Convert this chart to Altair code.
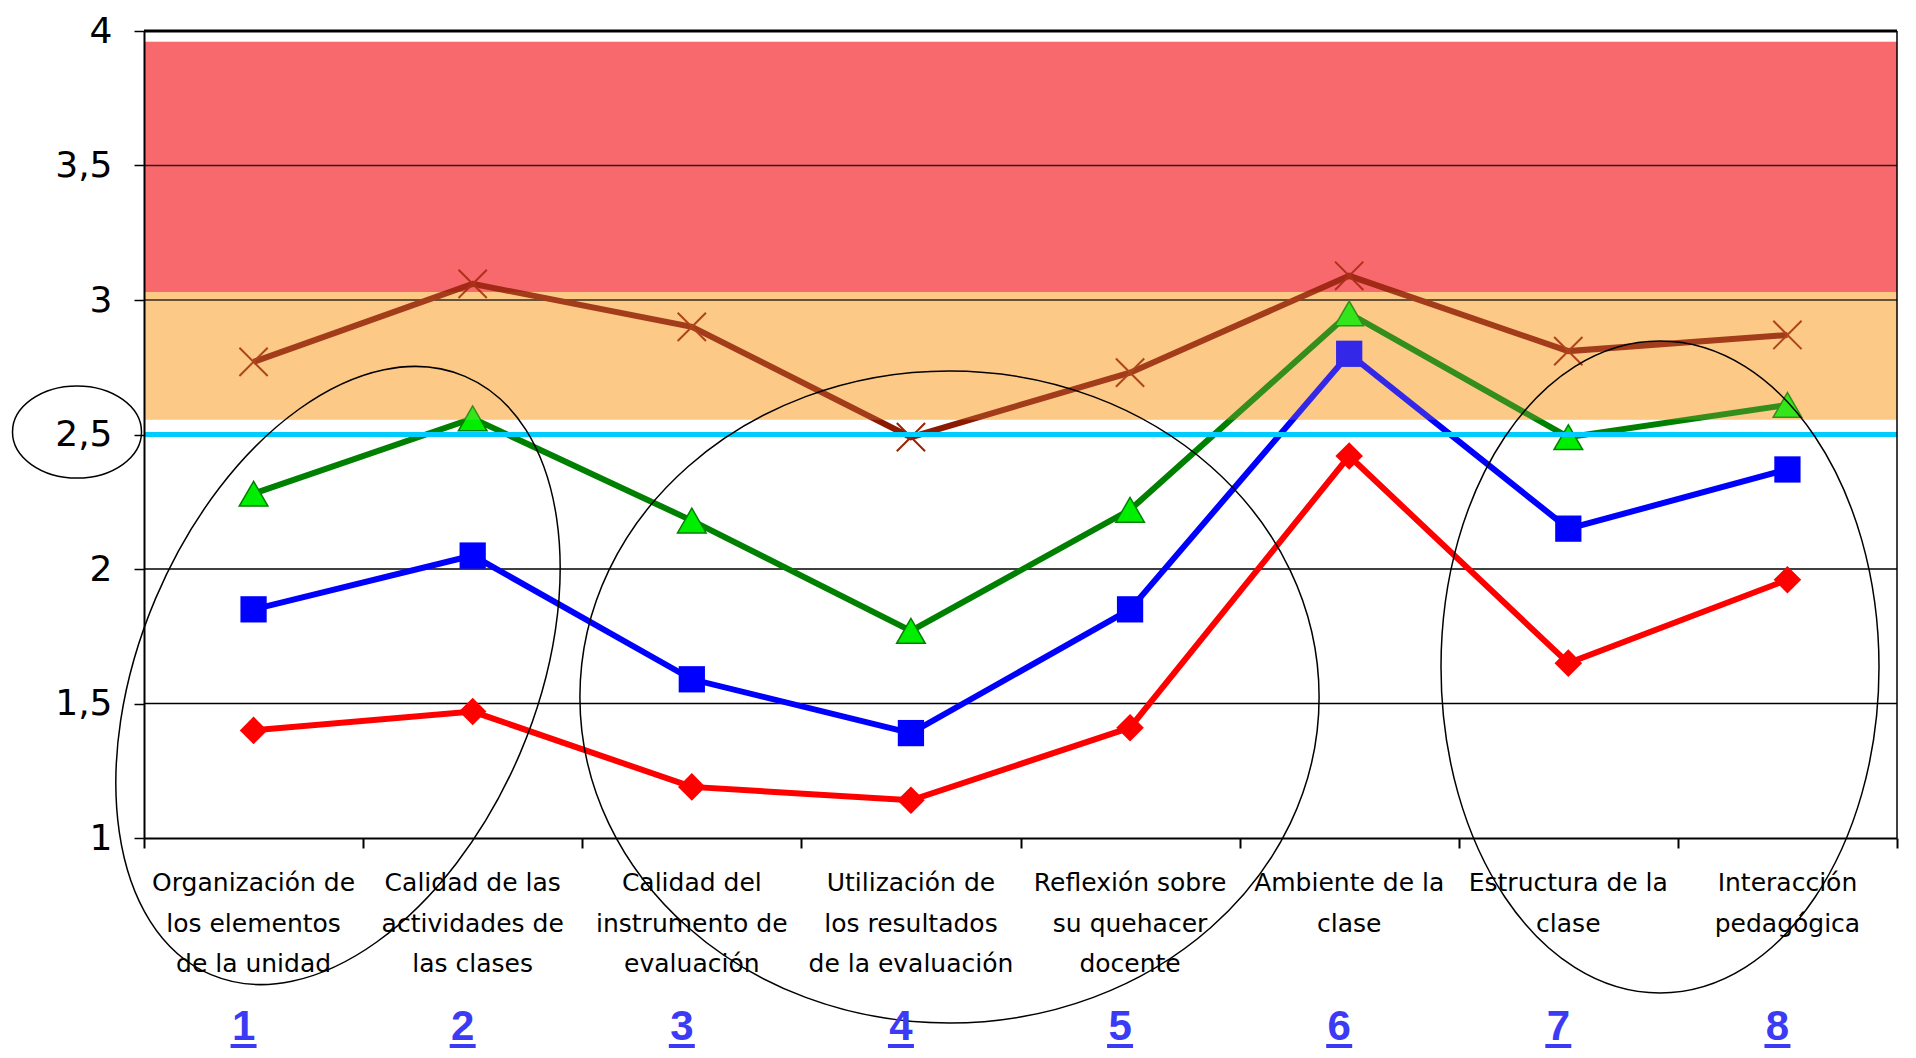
import altair as alt
import pandas as pd

# ---------------- data ----------------
categorias = [
    "Organización de\nlos elementos\nde la unidad",
    "Calidad de las\nactividades de\nlas clases",
    "Calidad del\ninstrumento de\nevaluación",
    "Utilización de\nlos resultados\nde la evaluación",
    "Reflexión sobre\nsu quehacer\ndocente",
    "Ambiente de la\nclase",
    "Estructura de la\nclase",
    "Interacción\npedagógica",
]
numeros = ["1", "2", "3", "4", "5", "6", "7", "8"]
posicion = [1, 2, 3, 4, 5, 6, 7, 8]

serie_rojo = [1.40, 1.47, 1.19, 1.14, 1.41, 2.42, 1.65, 1.96]
serie_azul = [1.85, 2.05, 1.59, 1.39, 1.85, 2.80, 2.15, 2.37]
serie_verde = [2.28, 2.56, 2.18, 1.77, 2.22, 2.95, 2.49, 2.61]
serie_cafe = [2.77, 3.06, 2.90, 2.49, 2.73, 3.09, 2.81, 2.87]

zona_nombre = ["medio", "alto"]
zona_min = [2.555, 3.03]
zona_max = [3.03, 3.96]

grid_values = [1.5, 2, 3, 3.5]
y_ticks = [1, 1.5, 2, 2.5, 3, 3.5, 4]
x_edges = [0.5, 1.5, 2.5, 3.5, 4.5, 5.5, 6.5, 7.5, 8.5]
umbral = [2.5]
y_top = [4]
x_right = [8.5]

# ---------------- layout ----------------
W, H = 1753, 807
TOP = 23
OFF = TOP - 19

df = pd.DataFrame({
    "x": posicion, "label": categorias, "num": numeros,
    "rojo": serie_rojo, "azul": serie_azul, "verde": serie_verde, "cafe": serie_cafe,
})
zonas = pd.DataFrame({"zona": zona_nombre, "lo": zona_min, "hi": zona_max})
grid_df = pd.DataFrame({"g": grid_values})
umbral_df = pd.DataFrame({"u": umbral})
top_df = pd.DataFrame({"t": y_top})
right_df = pd.DataFrame({"r": x_right})
dummy = pd.DataFrame({"d": [0]})

xs = alt.Scale(domain=[0.5, 8.5], nice=False, zero=False)
ys = alt.Scale(domain=[1, 4], nice=False, zero=False)

x_axis = alt.Axis(values=x_edges, labels=False, ticks=True, tickSize=10, tickWidth=2,
                  tickColor="black", domainColor="black", domainWidth=2, grid=False,
                  title=None, zindex=1)
y_axis = alt.Axis(values=y_ticks, labelExpr="replace(format(datum.value, '~g'), '.', ',')",
                  labelFont="DejaVu Sans", labelFontSize=36, labelColor="black",
                  labelPadding=22, tickSize=10, tickWidth=1.5, tickColor="black",
                  domainColor="black", domainWidth=2, grid=False, title=None, zindex=1)


def X(f):
    return alt.X(f, type="quantitative", scale=xs, axis=x_axis)


def Y(f):
    return alt.Y(f, type="quantitative", scale=ys, axis=y_axis)


zone_colors = alt.Scale(domain=zona_nombre, range=["#fdca86", "#f8696e"])

bands = alt.Chart(zonas).mark_rect().encode(
    y=Y("lo"), y2="hi", x=alt.value(0), x2=alt.value(W),
    color=alt.Color("zona:N", scale=zone_colors, legend=None))

bands_overlay = alt.Chart(zonas).mark_rect(opacity=0.2).encode(
    y=Y("lo"), y2="hi", x=alt.value(0), x2=alt.value(W),
    color=alt.Color("zona:N", scale=zone_colors, legend=None))

grid = alt.Chart(grid_df).mark_rule(color="black", strokeWidth=1.3).encode(y=Y("g"))

base = alt.Chart(df)
layers_series = []
spec = [
    ("rojo", "#ff0000", dict(shape="diamond", size=760, filled=True, color="#ff0000")),
    ("azul", "#0000ff", dict(shape="square", size=690, filled=True, color="#0000ff")),
    ("verde", "#008000", dict(shape="triangle-up", size=820, filled=True, fill="#00ee00",
                               stroke="#008000", strokeWidth=1.5)),
    ("cafe", "#8b1a00", dict(shape="M -1 -1 L 1 1 M -1 1 L 1 -1", size=800, filled=False,
                              stroke="#9a2400", strokeWidth=2)),
]
for field, col, pt in spec:
    layers_series.append(base.mark_line(color=col, strokeWidth=6).encode(x=X("x"), y=Y(field)))
    layers_series.append(base.mark_point(opacity=1, **pt).encode(x=X("x"), y=Y(field)))

cyan = alt.Chart(umbral_df).mark_rule(color="#00ccff", strokeWidth=5).encode(y=Y("u"))
top_rule = alt.Chart(top_df).mark_rule(color="black", strokeWidth=3).encode(y=Y("t"))
right_rule = alt.Chart(right_df).mark_rule(color="black", strokeWidth=1.5).encode(x=X("r"))


def ellipse_path(kx, ky):
    c = 0.5523
    return (f"M {kx} 0 C {kx} {c*ky:.4f} {c*kx:.4f} {ky} 0 {ky} "
            f"C {-c*kx:.4f} {ky} {-kx} {c*ky:.4f} {-kx} 0 "
            f"C {-kx} {-c*ky:.4f} {-c*kx:.4f} {-ky} 0 {-ky} "
            f"C {c*kx:.4f} {-ky} {kx} {-c*ky:.4f} {kx} 0 Z")


def ellipse(cx, cy, rx, ry, angle=0):
    r = max(rx, ry)
    mk = dict(shape=ellipse_path(rx / r, ry / r), size=(2 * r) ** 2, filled=False,
              stroke="black", strokeWidth=1.5, opacity=1)
    if angle:
        mk["angle"] = angle
    return alt.Chart(dummy).mark_point(**mk).encode(
        x=alt.value(cx), y=alt.value(cy - OFF))


ellipses = [
    ellipse(-67, 405, 64.5, 46),
    ellipse(194, 648.5, 198, 325, 23),
    ellipse(805.5, 670, 369.6, 326),
    ellipse(1516, 640, 219, 326),
]

labels = base.mark_text(font="DejaVu Sans", fontSize=25, color="black", align="center",
                        baseline="top", lineBreak="\n", lineHeight=40.5).encode(
    x=X("x"), y=alt.value(844 - OFF), text="label:N")

nums = base.mark_text(font="Liberation Sans", fontSize=42, fontWeight="bold",
                      color="#3b3bf5", align="center", baseline="alphabetic", dx=-10).encode(
    x=X("x"), y=alt.value(1013 - OFF), text="num:N")

underline = base.mark_tick(orient="horizontal", size=26, thickness=4, color="#3b3bf5",
                           xOffset=-10, opacity=1).encode(x=X("x"), y=alt.value(1019 - OFF))

chart = alt.layer(
    bands, grid, *layers_series, bands_overlay, cyan, top_rule, right_rule,
    *ellipses, labels, nums, underline
).properties(
    width=W, height=H,
    padding={"left": 136, "top": TOP, "right": 11, "bottom": 1040 - TOP - H},
    autosize=alt.AutoSizeParams(type="none"),
    background="white",
).configure_view(stroke=None)

chart.save("out.html", embed_options={"renderer": "svg", "actions": False})
